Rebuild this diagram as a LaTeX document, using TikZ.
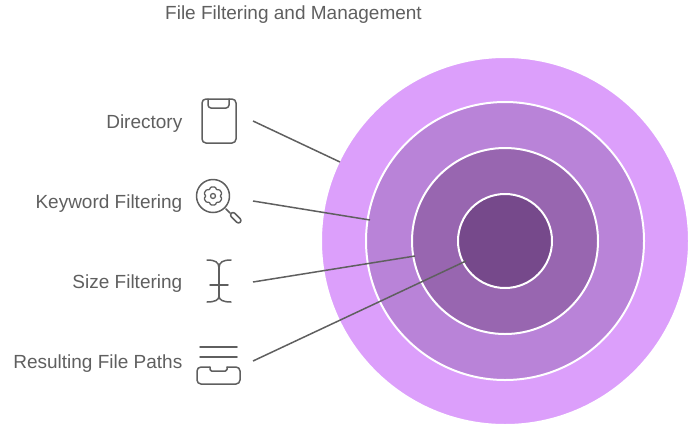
\documentclass[tikz,border=0pt]{standalone}
\usepackage{fontspec}
\setmainfont{Liberation Sans}
\definecolor{textgrey}{HTML}{5F5F5F}
\definecolor{ringa}{HTML}{DC9FFB}
\definecolor{ringb}{HTML}{B983D8}
\definecolor{ringc}{HTML}{9866B0}
\definecolor{ringd}{HTML}{76498B}
\tikzset{
    label/.style = {text=textgrey, font=\fontsize{19}{23}\selectfont, inner sep=0pt, anchor=base east},
    ring/.style = {circle, draw=white, line width=2pt, inner sep=0pt},
    link/.style = {draw=textgrey, line width=1.5pt},
    icon/.style = {draw=textgrey, line width=1.5pt, line cap=round, line join=round}
}
\begin{document}
\begin{tikzpicture}[x=1pt,y=-1pt]
        \useasboundingbox (0,0) rectangle (690,426);
        % rings
        \node[ring, fill=ringa, minimum size=368pt] (directory) at (505,241) {};
        \node[ring, fill=ringb, minimum size=278pt] (keyword) at (505,241) {};
        \node[ring, fill=ringc, minimum size=186pt] (size) at (505,241) {};
        \node[ring, fill=ringd, minimum size=94pt] (paths) at (505,241) {};
        % labels
        \node[text=textgrey, font=\fontsize{19}{23}\selectfont, inner sep=0pt, anchor=base] (title) at (293.5,19) {File Filtering and Management};
        \node[label] (l1) at (182.5,128) {Directory};
        \node[label] (l2) at (182.5,208) {Keyword Filtering};
        \node[label] (l3) at (182.5,288) {Size Filtering};
        \node[label] (l4) at (182.5,368) {Resulting File Paths};
        % connectors
        \coordinate (s1) at (253,121);
        \coordinate (s2) at (253,201);
        \coordinate (s3) at (253,282);
        \coordinate (s4) at (253,361);
        \coordinate (e1) at (340,162);
        \coordinate (e2) at (370,220);
        \coordinate (e3) at (415,256);
        \coordinate (e4) at (466,261);
        \foreach \from/\to in {s1/e1, s2/e2, s3/e3, s4/e4}
            \draw[link] (\from) -- (\to);
        % icons
        \draw[icon, rounded corners=4pt] (202,99) rectangle (236,143);
        \draw[icon, rounded corners=3pt] (208,99) -- (208,108) -- (229,108) -- (229,99);
        \draw[icon] (213,196) circle (16.5);
        \draw[icon] (226,209) -- (230,213);
        \draw[icon, rounded corners=2.5pt] (229.5,215) -- (233,211.5) -- (242,220.5) -- (238.5,224) -- cycle;
        \draw[icon, line width=1.3pt] (213,196) circle (2.5);
        \draw[icon, line width=1.3pt, rounded corners=1pt]
            (210.5,187) -- (215.5,187) -- (216.5,190) -- (219.5,189.5) -- (222,193.5) -- (220,196)
            -- (222,198.5) -- (219.5,202.5) -- (216.5,202) -- (215.5,205) -- (210.5,205)
            -- (209.5,202) -- (206.5,202.5) -- (204,198.5) -- (206,196) -- (204,193.5)
            -- (206.5,189.5) -- (209.5,190) -- cycle;
        \draw[icon] (219,268) -- (219,296);
        \draw[icon] (207,260) .. controls (215,260) and (219,262) .. (219,268);
        \draw[icon] (231,260) .. controls (223,260) and (219,262) .. (219,268);
        \draw[icon] (207,302) .. controls (215,302) and (219,300) .. (219,296);
        \draw[icon] (231,302) .. controls (223,302) and (219,300) .. (219,296);
        \draw[icon] (210,285) -- (228,285);
        \draw[icon] (200,347) -- (237,347);
        \draw[icon] (200,357) -- (237,357);
        \draw[icon, rounded corners=4pt] (210,367) -- (197,367) -- (197,384) -- (240,384) -- (240,367) -- (227,367);
        \draw[icon, rounded corners=1.5pt] (210,367) -- (210,371) -- (227,371) -- (227,367);
    \end{tikzpicture}
\end{document}
